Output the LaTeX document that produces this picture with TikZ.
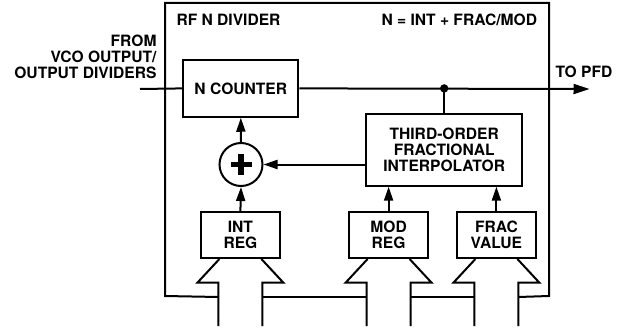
\documentclass[tikz,border=0pt]{standalone}
\usepackage{fontspec}
\setmainfont{TeX Gyre Heros}
\usetikzlibrary{calc,arrows.meta}
\begin{document}
\begin{tikzpicture}[x=1pt,y=-1pt,
  line width=2pt,
  lbl/.style={font=\fontsize{15.6}{15.8}\selectfont\bfseries, inner sep=0pt, align=center},
  blk/.style={draw, lbl, minimum width=#1, fill=white},
  arr/.style={-{Triangle[length=14pt,width=9pt]}},
  bigarr/.style={-{Triangle[length=16pt,width=10pt]}},
  bus/.style={line join=miter, line cap=butt}
]
\useasboundingbox (0,0) rectangle (629,329);

% blocks
\node[blk=115pt, minimum height=56.7pt] (ncnt) at (240.8,88.4) {N COUNTER};
\node[blk=156pt, minimum height=71.4pt] (tfi) at (444.2,150) {THIRD-ORDER\\FRACTIONAL\\INTERPOLATOR};
\node[blk=79.3pt, minimum height=46pt] (intr) at (240.4,235) {INT\\REG};
\node[blk=79.3pt, minimum height=46pt] (modr) at (388.6,235) {MOD\\REG};
\node[blk=79.3pt, minimum height=46pt] (frac) at (496.4,235) {FRAC\\VALUE};
\node[draw, circle, minimum size=43pt, inner sep=0pt] (sum) at (241,164.5) {};
\fill (sum.center) ++(-10.5,-2.8) rectangle ++(21,5.6);
\fill (sum.center) ++(-2.8,-10.5) rectangle ++(5.6,21);

% labels
\node[lbl, anchor=base west] (title) at (175.5,26) {RF N DIVIDER};
\node[lbl, anchor=base east] (eqn) at (538,26) {N = INT + FRAC/MOD};
\node[lbl, anchor=north east, align=right] (from) at (157.5,34) {FROM\\VCO OUTPUT/\\OUTPUT DIVIDERS};
\node[lbl, anchor=base west] (topfd) at (554.5,77.3) {TO PFD};

% signal path
\coordinate (in) at (140,89);
\coordinate (out) at (589.5,89);
\coordinate (dot) at (tfi.north |- ncnt.east);
\draw (in) -- (ncnt.west);
\draw[bigarr] (ncnt.east) -- (out);
\fill (dot) circle (4.2pt);
\draw (dot) -- (tfi.north);
\draw[arr] (sum.north) -- (ncnt.south);
\draw[arr] (intr.north) -- (sum.south);
\draw[arr] (sum.east -| tfi.west) -- (sum.east);
\draw[arr] (modr.north) -- (modr.north |- tfi.south);
\draw[arr] (frac.north) -- (frac.north |- tfi.south);

% bus inputs
\foreach \b in {intr,modr,frac}{
  \draw[bus] ($(\b.south)+(-21,0)$) -- ++(-22,23.7) -- ++(21,0) -- ($(\b.south)+(-22,67)$);
  \draw[bus] ($(\b.south)+(21,0)$) -- ++(22,23.7) -- ++(-21,0) -- ($(\b.south)+(22,67)$);
}

% frame
\draw[line join=miter] ($(intr.south)+(-22,38)$) -- (165,296) -- (165,3) -- (549,3) -- (549,296) -- ($(frac.south)+(22,38)$);
\draw ($(intr.south)+(22,38)$) -- ($(modr.south)+(-22,38)$);
\draw ($(modr.south)+(22,38)$) -- ($(frac.south)+(-22,38)$);
\end{tikzpicture}
\end{document}
